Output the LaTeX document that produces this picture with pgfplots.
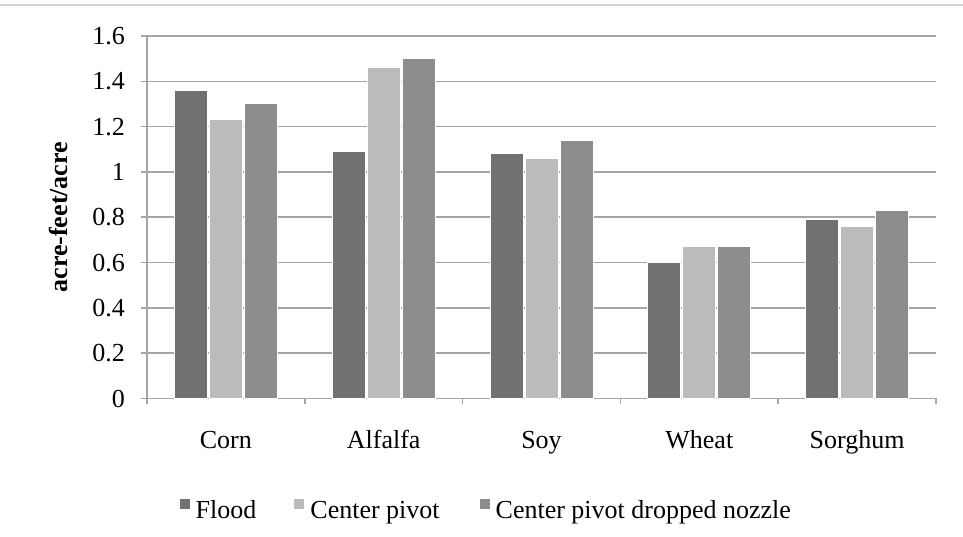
\documentclass[border=0pt]{standalone}
\usepackage{pgfplots}
\pgfplotsset{compat=1.18}
\usepackage{fontspec}
\setmainfont{Liberation Serif}

\definecolor{flood}{HTML}{717171}
\definecolor{pivot}{HTML}{BBBBBB}
\definecolor{dropped}{HTML}{8D8D8D}
\definecolor{gridgray}{HTML}{A5A5A5}
\definecolor{rulegray}{HTML}{D4D4D4}

\begin{document}
\begin{tikzpicture}
\useasboundingbox (0,0) rectangle (963pt,537pt);
\draw[rulegray, line width=1.5pt] (0,532pt) -- (963pt,532pt);
\begin{axis}[
  at={(147pt,138.5pt)}, anchor=south west,
  scale only axis, width=789pt, height=362.5pt,
  ybar=2pt, bar width=33pt,
  xmin=-0.5, xmax=4.5, ymin=0, ymax=1.6,
  ytick={0,0.2,0.4,0.6,0.8,1,1.2,1.4,1.6},
  xtick={-0.5,0.5,1.5,2.5,3.5,4.5},
  x tick label as interval,
  xticklabels={Corn,Alfalfa,Soy,Wheat,Sorghum},
  axis x line*=bottom, axis y line*=left,
  axis line style={gridgray, line width=1.5pt},
  tick align=outside, major tick length=6pt,
  tick style={gridgray, line width=1.5pt},
  ymajorgrids, grid style={gridgray, line width=1.5pt},
  font=\fontsize{26}{30}\selectfont,
  /pgf/number format/assume math mode=true,
  yticklabel style={/pgf/number format/fixed, /pgf/number format/precision=1,
    anchor=east, inner sep=0pt, xshift=-16pt},
  xticklabel style={anchor=base, inner sep=0pt, yshift=-44pt},
  ylabel={\bfseries acre-feet/acre},
  ylabel style={at={(axis description cs:-0.112,0.5)}, anchor=center, rotate=0},
  legend columns=-1,
  legend style={at={(axis description cs:0.0368,-0.3047)}, anchor=west,
    draw=none, fill=none, font=\fontsize{26}{30}\selectfont,
    nodes={inner sep=1.5pt}},
  legend image code/.code={%
    \fill[#1, draw=none] (0pt,0pt) rectangle (10pt,9.5pt);
    \path (14pt,-13.5pt) (0pt,13.5pt);},
]
\addplot[fill=flood, draw=white, line width=1pt]
  coordinates {(0,1.36) (1,1.09) (2,1.08) (3,0.60) (4,0.79)};
\addplot[fill=pivot, draw=white, line width=1pt]
  coordinates {(0,1.23) (1,1.46) (2,1.06) (3,0.67) (4,0.76)};
\addplot[fill=dropped, draw=white, line width=1pt]
  coordinates {(0,1.30) (1,1.50) (2,1.14) (3,0.67) (4,0.83)};
\legend{\strut Flood\hspace*{36pt}, \strut Center pivot\hspace*{38pt}, \strut Center pivot dropped nozzle}
\end{axis}
\end{tikzpicture}
\end{document}
